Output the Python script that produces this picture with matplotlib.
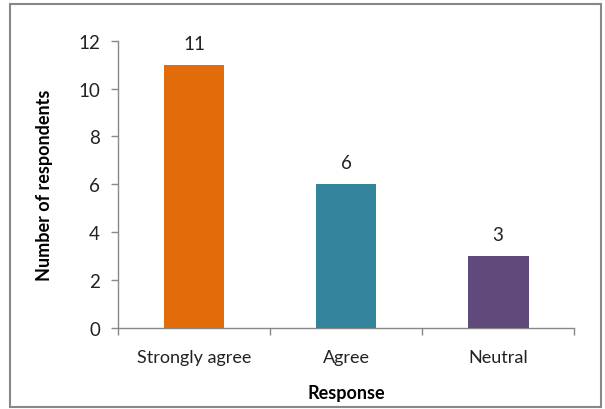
import matplotlib.pyplot as plt
from matplotlib.patches import Rectangle

categories = ["Strongly agree", "Agree", "Neutral"]
counts = [11, 6, 3]
colors = ["#E36C0A", "#31849B", "#604A7B"]

plt.rcParams['font.family'] = ['Lato', 'DejaVu Sans']

fig = plt.figure(figsize=(6.05, 4.1), dpi=100)
ax = fig.add_axes([0.195, 0.198, 0.754, 0.70])

x = list(range(len(categories)))
bars = ax.bar(x, counts, width=0.4, color=colors, zorder=3)

for xi, c in zip(x, counts):
    ax.text(xi, c + 0.55, str(c), ha='center', va='bottom', fontsize=13.5, color='#222222')

ax.set_xlim(-0.5, len(categories) - 0.5)
ax.set_ylim(0, 12)
ax.set_yticks(range(0, 13, 2))
ax.set_xticks(x)
ax.set_xticklabels(categories, fontsize=13)
ax.tick_params(axis='x', length=0, pad=15, colors='#222222')
ax.tick_params(axis='y', labelsize=13.5, length=5, color='#888888', labelcolor='#222222', width=1, pad=8)
# boundary ticks between categories
ax.set_xticks([-0.5, 0.5, 1.5, 2.5], minor=True)
ax.tick_params(axis='x', which='minor', length=5, color='#888888', width=1)

for side in ['top', 'right']:
    ax.spines[side].set_visible(False)
for side in ['left', 'bottom']:
    ax.spines[side].set_color('#888888')
    ax.spines[side].set_linewidth(1)

ax.set_ylabel("Number of respondents", fontsize=13, fontweight='bold', labelpad=18)
ax.set_xlabel("Response", fontsize=13, fontweight='bold', labelpad=14)

fig.patches.append(Rectangle((0.016, 0.005), 0.978, 0.982, transform=fig.transFigure,
                             fill=False, edgecolor='#888888', linewidth=1.5))

fig.savefig("out.png", dpi=100)
